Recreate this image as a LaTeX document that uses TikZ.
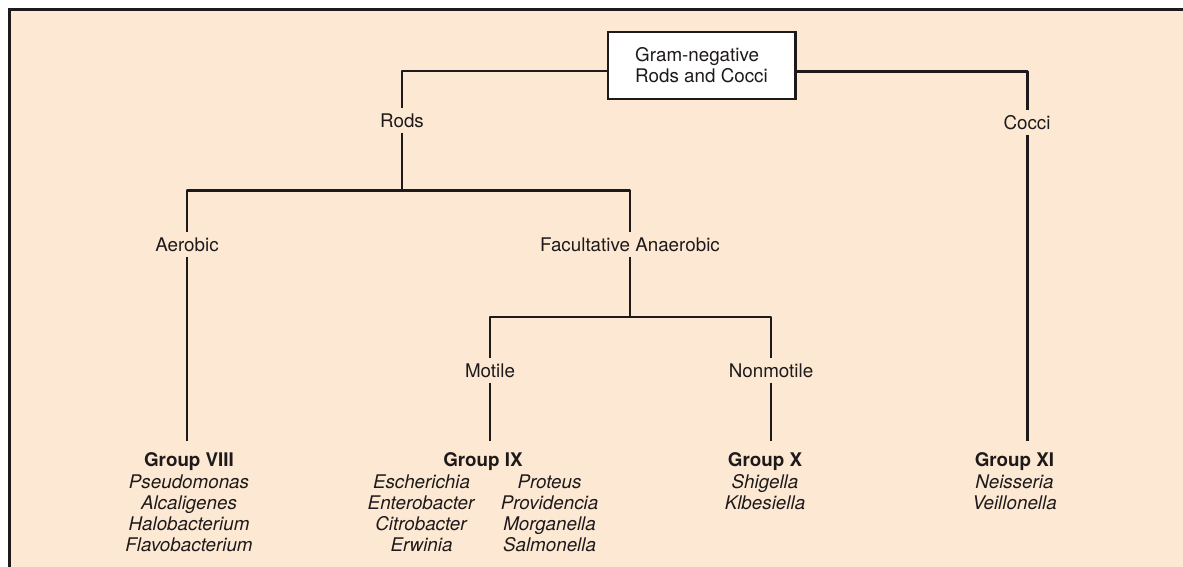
\documentclass[tikz,border=0pt]{standalone}
\usepackage{fontspec}
\setmainfont{TeX Gyre Heros}
\usepackage{xcolor}
\usepackage{tikz}
\definecolor{paper}{HTML}{FDE9D3}
\definecolor{ink}{HTML}{1E1A1B}
\usetikzlibrary{positioning}

\begin{document}
\begin{tikzpicture}[
    every node/.style={font=\fontsize{10.7}{12.1}\selectfont, text=ink},
    branch/.style={draw=ink, line width=1.7pt, line join=round},
    tag/.style={anchor=base, inner sep=0.1cm},
    group/.style={align=center, anchor=north, inner sep=0.1cm, outer ysep=0.14cm},
    rootbox/.style={draw=ink, line width=1.7pt, fill=white, align=left,
                    minimum width=3.74cm, minimum height=1.34cm},
]
\useasboundingbox (0,0) rectangle (23.66,-11.34);

% Panel: filled, ruled on top and left only
\fill[paper] (0.18,-0.18) rectangle (23.66,-11.34);
\draw[ink, line width=1.6pt] (0.19,-11.34) -- (0.19,-0.19) -- (23.66,-0.19);

% Root box
\node[rootbox] (root) at (14.03, -1.31) {Gram-negative\\Rods and Cocci};

% Branch labels
\node[tag] (rods)   at (8.04, -2.54)  {Rods};
\node[tag] (cocci)  at (20.54, -2.58) {Cocci};
\node[tag] (aer)    at (3.74, -5.02)  {Aerobic};
\node[tag] (facan)  at (12.60, -5.02) {Facultative Anaerobic};
\node[tag] (mot)    at (9.80, -7.54)  {Motile};
\node[tag] (nonmot) at (15.42, -7.54) {Nonmotile};

\coordinate (rodsj) at (8.04, -3.81);
\coordinate (facj)  at (12.60, -6.34);

% Groups
\node[group] (g8) at (3.78, -8.82)
    {\textbf{Group VIII}\\\textit{Pseudomonas}\\\textit{Alcaligenes}\\
     \textit{Halobacterium}\\\textit{Flavobacterium}};
\node[group] (g9) at (9.66, -8.82)
    {\textbf{Group IX}\\
     \begin{tabular}[t]{@{}c@{\hspace{0.51cm}}c@{}}
     \textit{Escherichia}  & \textit{Proteus}\\
     \textit{Enterobacter} & \textit{Providencia}\\
     \textit{Citrobacter}  & \textit{Morganella}\\
     \textit{Erwinia}      & \textit{Salmonella}
     \end{tabular}};
\node[group] (g10) at (15.30, -8.82)
    {\textbf{Group X}\\\textit{Shigella}\\\textit{Klbesiella}};
\node[group] (g11) at (20.29, -8.82)
    {\textbf{Group XI}\\\textit{Neisseria}\\\textit{Veillonella}};

% Tree lines
\draw[branch] ([yshift=-0.11cm]root.west) -| (rods);
\draw[branch] ([yshift=-0.12cm]root.east) -| (cocci);
\draw[branch] (rods) -- (rodsj);
\draw[branch] (aer) |- (rodsj) -| (facan);
\draw[branch] (facan) -- (facj);
\draw[branch] (mot) |- (facj) -| (nonmot);
\draw[branch] (aer) -- (aer |- g8.north);
\draw[branch] (mot) -- (mot |- g9.north);
\draw[branch] (nonmot) -- (nonmot |- g10.north);
\draw[branch] (cocci) -- (cocci |- g11.north);

\end{tikzpicture}
\end{document}
